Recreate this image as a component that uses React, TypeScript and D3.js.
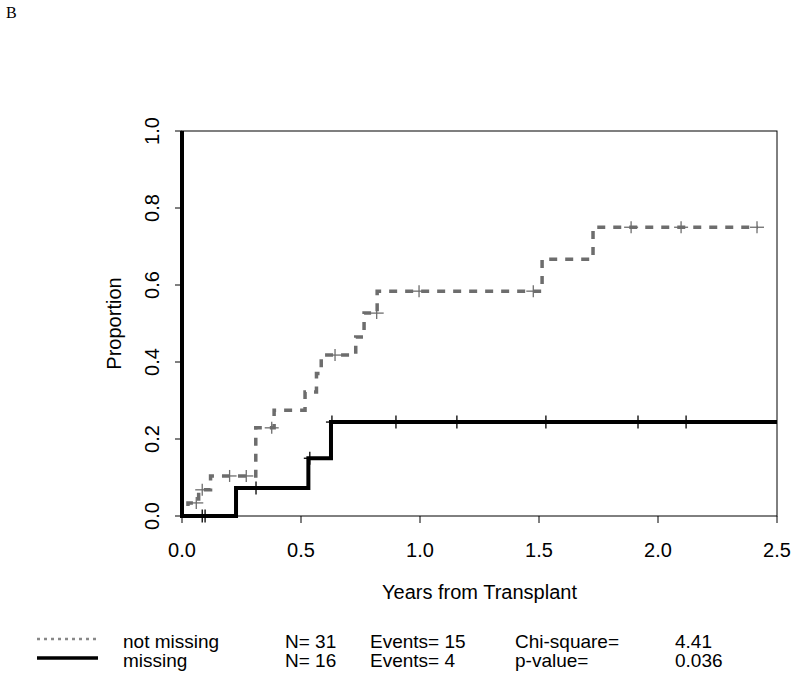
import React from "react";
import * as d3 from "d3";

// ---- data ----
const notMissingTimes = [0, 0.025, 0.07, 0.12, 0.31, 0.387, 0.517, 0.565, 0.585, 0.73, 0.765, 0.82, 1.513, 1.727, 2.42];
const notMissingValues = [0, 0.034, 0.068, 0.104, 0.229, 0.275, 0.322, 0.37, 0.418, 0.465, 0.527, 0.584, 0.667, 0.75, 0.75];
const notMissingCensorTimes = [0.06, 0.085, 0.2, 0.27, 0.377, 0.643, 0.818, 0.996, 1.476, 1.887, 2.097, 2.416];
const notMissingCensorValues = [0.034, 0.068, 0.104, 0.104, 0.229, 0.418, 0.527, 0.584, 0.584, 0.75, 0.75, 0.75];

const missingTimes = [0, 0, 0.227, 0.531, 0.626, 2.5];
const missingValues = [1, 0, 0.073, 0.15, 0.244, 0.244];
const missingCensorTimes = [0.085, 0.097, 0.311, 0.537, 0.63, 0.899, 1.155, 1.529, 1.916, 2.118];
const missingCensorValues = [0, 0, 0.073, 0.15, 0.244, 0.244, 0.244, 0.244, 0.244, 0.244];

const xTicks = [0, 0.5, 1.0, 1.5, 2.0, 2.5];
const yTicks = [0, 0.2, 0.4, 0.6, 0.8, 1.0];

const legendGroups = ["not missing", "missing"];
const legendN = ["N= 31", "N= 16"];
const legendEvents = ["Events= 15", "Events= 4"];
const legendStatLabels = ["Chi-square=", "p-value="];
const legendStatValues = ["4.41", "0.036"];

const GRAY = "#6d6d6d";
const FONT = "'Liberation Sans', Arial, Helvetica, sans-serif";

export default function App() {
  const left = 182, right = 777, top = 131, bottom = 516;
  const x = d3.scaleLinear().domain([0, 2.5]).range([left, right]);
  const y = d3.scaleLinear().domain([0, 1]).range([bottom, top]);

  const line = d3
    .line<[number, number]>()
    .x((d) => x(d[0]))
    .y((d) => y(d[1]))
    .curve(d3.curveStepAfter);

  const grayPts: [number, number][] = notMissingTimes.map((t, i) => [t, notMissingValues[i]]);
  const blackPts: [number, number][] = missingTimes.map((t, i) => [t, missingValues[i]]);

  const fmt = d3.format(".1f");

  return (
    <div style={{ position: "absolute", left: 0, top: 0 }}>
      <svg width={800} height={680} style={{ display: "block", background: "#fff" }}>
        <rect x={0} y={0} width={800} height={680} fill="#fff" />
        <text x={6} y={18} fontFamily="'Liberation Serif', 'Times New Roman', serif" fontSize={16}>
          B
        </text>

        {/* box */}
        <rect x={left} y={top} width={right - left} height={bottom - top} fill="none" stroke="#000" strokeWidth={1} />

        {/* x axis */}
        {xTicks.map((t) => (
          <g key={"xt" + t}>
            <line x1={x(t)} x2={x(t)} y1={bottom} y2={bottom + 7} stroke="#000" strokeWidth={1} />
            <text x={x(t)} y={557} textAnchor="middle" fontFamily={FONT} fontSize={20}>
              {fmt(t)}
            </text>
          </g>
        ))}
        <text x={(left + right) / 2} y={599} textAnchor="middle" fontFamily={FONT} fontSize={20}>
          Years from Transplant
        </text>

        {/* y axis */}
        {yTicks.map((t) => (
          <g key={"yt" + t}>
            <line x1={left - 7} x2={left} y1={y(t)} y2={y(t)} stroke="#000" strokeWidth={1} />
            <text
              transform={`translate(159,${y(t)}) rotate(-90)`}
              textAnchor="middle"
              fontFamily={FONT}
              fontSize={20}
            >
              {fmt(t)}
            </text>
          </g>
        ))}
        <text
          transform={`translate(121,${(top + bottom) / 2}) rotate(-90)`}
          textAnchor="middle"
          fontFamily={FONT}
          fontSize={20}
        >
          Proportion
        </text>

        {/* curves */}
        <path d={line(grayPts) || ""} fill="none" stroke={GRAY} strokeWidth={3.5} strokeDasharray="8,8" />
        <path d={line(blackPts) || ""} fill="none" stroke="#000" strokeWidth={4} />

        {/* censor marks */}
        {notMissingCensorTimes.map((t, i) => (
          <g key={"gc" + i} stroke={GRAY} strokeWidth={1.3}>
            <line x1={x(t) - 7} x2={x(t) + 7} y1={y(notMissingCensorValues[i])} y2={y(notMissingCensorValues[i])} />
            <line x1={x(t)} x2={x(t)} y1={y(notMissingCensorValues[i]) - 6} y2={y(notMissingCensorValues[i]) + 6} />
          </g>
        ))}
        {missingCensorTimes.map((t, i) => (
          <g key={"bc" + i} stroke="#000" strokeWidth={1.3}>
            <line x1={x(t) - 6} x2={x(t) + 6} y1={y(missingCensorValues[i])} y2={y(missingCensorValues[i])} />
            <line x1={x(t)} x2={x(t)} y1={y(missingCensorValues[i]) - 6.5} y2={y(missingCensorValues[i]) + 6.5} />
          </g>
        ))}

        {/* legend */}
        <line x1={37} x2={98} y1={639} y2={639} stroke="#888" strokeWidth={2.5} strokeDasharray="3,4" />
        <line x1={37} x2={98} y1={658} y2={658} stroke="#000" strokeWidth={3.5} />
        {legendGroups.map((g, i) => {
          const by = 648 + i * 19;
          return (
            <g key={"lg" + i} fontFamily={FONT} fontSize={19}>
              <text x={123} y={by}>{g}</text>
              <text x={285} y={by}>{legendN[i]}</text>
              <text x={370} y={by}>{legendEvents[i]}</text>
              <text x={515} y={by}>{legendStatLabels[i]}</text>
              <text x={675} y={by}>{legendStatValues[i]}</text>
            </g>
          );
        })}
      </svg>
    </div>
  );
}
